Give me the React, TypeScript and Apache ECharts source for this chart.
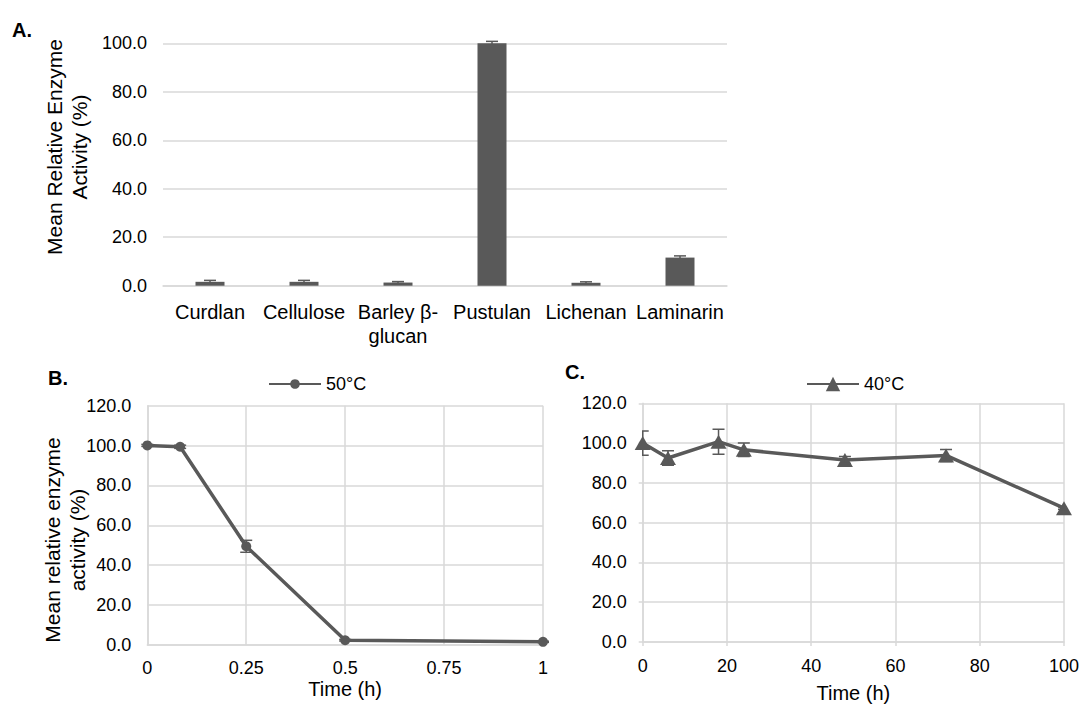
import React, { useEffect, useRef } from "react";
import * as echarts from "echarts";

const aCategories = ["Curdlan", "Cellulose", "Barley β-glucan", "Pustulan", "Lichenan", "Laminarin"];
const aValues = [1.6, 1.6, 1.3, 100.0, 1.2, 11.6];
const aErrors = [0.6, 0.6, 0.4, 0.8, 0.4, 0.7];

const bTimes = [0, 0.083, 0.25, 0.5, 1];
const bValues = [100.1, 99.4, 49.5, 2.4, 1.6];
const bErrors = [0.5, 0.8, 3.0, 0.4, 0.3];

const cTimes = [0, 6, 18, 24, 48, 72, 100];
const cValues = [100.0, 92.5, 100.7, 96.6, 91.5, 93.8, 67.3];
const cErrors = [6.1, 3.7, 6.3, 3.4, 1.8, 3.0, 0.6];

const yTicksA = [0, 20, 40, 60, 80, 100];
const yTicksBC = [0, 20, 40, 60, 80, 100, 120];

const FONT = "'Liberation Sans', Arial, sans-serif";
const DARK = "#595959";
const GRIDC = "#d9d9d9";
const TXT = "#000000";

function errorRender(capHalf: number) {
  return (params: any, api: any) => {
    const x = api.value(0);
    const y = api.value(1);
    const e = api.value(2);
    const top = api.coord([x, y + e]);
    const bot = api.coord([x, y - e]);
    const st = { stroke: DARK, lineWidth: 1.5 };
    return {
      type: "group",
      children: [
        { type: "line", shape: { x1: top[0], y1: top[1], x2: bot[0], y2: bot[1] }, style: st },
        { type: "line", shape: { x1: top[0] - capHalf, y1: top[1], x2: top[0] + capHalf, y2: top[1] }, style: st },
        { type: "line", shape: { x1: bot[0] - capHalf, y1: bot[1], x2: bot[0] + capHalf, y2: bot[1] }, style: st },
      ],
    };
  };
}

export default function App() {
  const ref = useRef<HTMLDivElement>(null);
  useEffect(() => {
    if (!ref.current) return;
    const chart = echarts.init(ref.current, null, { renderer: "svg" });
    const tickLabel = { color: TXT, fontSize: 18, fontFamily: FONT };
    const yFmt = (v: number) => v.toFixed(1);
    const option: any = {
      animation: false,
      backgroundColor: "#ffffff",
      textStyle: { fontFamily: FONT },
      grid: [
        { left: 163, top: 43.3, width: 564, height: 242.4 },
        { left: 147.3, top: 405.7, width: 395.7, height: 239.3 },
        { left: 642.7, top: 403.3, width: 423.3, height: 239 },
      ],
      xAxis: [
        {
          gridIndex: 0,
          type: "category",
          data: aCategories,
          axisLine: { show: true, lineStyle: { color: GRIDC, width: 1.5 } },
          axisTick: { show: false },
          axisLabel: {
            ...tickLabel,
            fontSize: 20,
            interval: 0,
            margin: 14,
            lineHeight: 24,
            formatter: (v: string) => (v === "Barley β-glucan" ? "Barley β-\nglucan" : v),
          },
          splitLine: { show: false },
        },
        {
          gridIndex: 1,
          type: "value",
          min: 0,
          max: 1,
          interval: 0.25,
          axisLine: { show: true, lineStyle: { color: GRIDC, width: 1.5 } },
          axisTick: { show: false },
          axisLabel: { ...tickLabel, margin: 14 },
          splitLine: { show: true, lineStyle: { color: GRIDC, width: 1.5 } },
          name: "Time (h)",
          nameLocation: "middle",
          nameGap: 34,
          nameTextStyle: { color: TXT, fontSize: 20, fontFamily: FONT },
        },
        {
          gridIndex: 2,
          type: "value",
          min: 0,
          max: 100,
          interval: 20,
          axisLine: { show: true, lineStyle: { color: GRIDC, width: 1.5 } },
          axisTick: { show: true, length: 4, lineStyle: { color: GRIDC, width: 1.5 } },
          axisLabel: { ...tickLabel, margin: 15 },
          splitLine: { show: true, lineStyle: { color: GRIDC, width: 1.5 } },
          name: "Time (h)",
          nameLocation: "middle",
          nameGap: 41,
          nameTextStyle: { color: TXT, fontSize: 20, fontFamily: FONT },
        },
      ],
      yAxis: [
        {
          gridIndex: 0,
          type: "value",
          min: yTicksA[0],
          max: yTicksA[yTicksA.length - 1],
          interval: 20,
          axisLine: { show: false },
          axisTick: { show: false },
          axisLabel: { ...tickLabel, margin: 16, formatter: yFmt },
          splitLine: { show: true, lineStyle: { color: GRIDC, width: 1.5 } },
        },
        {
          gridIndex: 1,
          type: "value",
          min: yTicksBC[0],
          max: yTicksBC[yTicksBC.length - 1],
          interval: 20,
          axisLine: { show: true, lineStyle: { color: GRIDC, width: 1.5 } },
          axisTick: { show: false },
          axisLabel: { ...tickLabel, margin: 16, formatter: yFmt },
          splitLine: { show: true, lineStyle: { color: GRIDC, width: 1.5 } },
        },
        {
          gridIndex: 2,
          type: "value",
          min: yTicksBC[0],
          max: yTicksBC[yTicksBC.length - 1],
          interval: 20,
          axisLine: { show: true, lineStyle: { color: GRIDC, width: 1.5 } },
          axisTick: { show: true, length: 4, lineStyle: { color: GRIDC, width: 1.5 } },
          axisLabel: { ...tickLabel, margin: 16, formatter: yFmt },
          splitLine: { show: true, lineStyle: { color: GRIDC, width: 1.5 } },
        },
      ],
      legend: [
        {
          data: ["50°C"],
          left: 268,
          top: 375,
          padding: 0,
          itemWidth: 52,
          itemHeight: 12,
          itemGap: 5,
          textStyle: { color: TXT, fontSize: 18, fontFamily: FONT },
        },
        {
          data: ["40°C"],
          left: 806,
          top: 375,
          padding: 0,
          itemWidth: 52,
          itemHeight: 18,
          itemGap: 5,
          textStyle: { color: TXT, fontSize: 18, fontFamily: FONT },
        },
      ],
      series: [
        {
          name: "Activity",
          type: "bar",
          xAxisIndex: 0,
          yAxisIndex: 0,
          data: aValues,
          barWidth: 29,
          itemStyle: { color: DARK },
        },
        {
          name: "errA",
          type: "custom",
          xAxisIndex: 0,
          yAxisIndex: 0,
          data: aCategories.map((c, i) => [i, aValues[i], aErrors[i]]),
          encode: { x: 0, y: 1 },
          renderItem: errorRender(6),
          z: 5,
        },
        {
          name: "50°C",
          type: "line",
          xAxisIndex: 1,
          yAxisIndex: 1,
          data: bTimes.map((t, i) => [t, bValues[i]]),
          symbol: "circle",
          symbolSize: 10,
          lineStyle: { color: DARK, width: 3.5 },
          itemStyle: { color: DARK },
        },
        {
          name: "errB",
          type: "custom",
          xAxisIndex: 1,
          yAxisIndex: 1,
          data: bTimes.map((t, i) => [t, bValues[i], bErrors[i]]),
          encode: { x: 0, y: 1 },
          renderItem: errorRender(6),
          z: 5,
        },
        {
          name: "40°C",
          type: "line",
          xAxisIndex: 2,
          yAxisIndex: 2,
          data: cTimes.map((t, i) => [t, cValues[i]]),
          symbol: "triangle",
          symbolSize: [16, 14],
          lineStyle: { color: DARK, width: 3.5 },
          itemStyle: { color: DARK },
        },
        {
          name: "errC",
          type: "custom",
          xAxisIndex: 2,
          yAxisIndex: 2,
          clip: true,
          data: cTimes.map((t, i) => [t, cValues[i], cErrors[i]]),
          encode: { x: 0, y: 1 },
          renderItem: errorRender(6),
          z: 5,
        },
      ],
      graphic: [
        { type: "text", left: 12, top: 20, style: { text: "A.", fill: TXT, font: `bold 20px ${FONT}` } },
        { type: "text", left: 48, top: 368, style: { text: "B.", fill: TXT, font: `bold 20px ${FONT}` } },
        { type: "text", left: 565, top: 362, style: { text: "C.", fill: TXT, font: `bold 20px ${FONT}` } },
        {
          type: "text",
          x: 67,
          y: 147,
          rotation: Math.PI / 2,
          style: {
            text: "Mean Relative Enzyme\nActivity (%)",
            fill: TXT,
            font: `21px ${FONT}`,
            lineHeight: 25,
            align: "center",
            verticalAlign: "middle",
          },
        },
        {
          type: "text",
          x: 65,
          y: 540,
          rotation: Math.PI / 2,
          style: {
            text: "Mean relative enzyme\nactivity (%)",
            fill: TXT,
            font: `21px ${FONT}`,
            lineHeight: 25,
            align: "center",
            verticalAlign: "middle",
          },
        },
      ],
    };
    chart.setOption(option);
    return () => chart.dispose();
  }, []);
  return (
    <div
      ref={ref}
      style={{ position: "fixed", left: 0, top: 0, width: 1082, height: 704, background: "#fff" }}
    />
  );
}
